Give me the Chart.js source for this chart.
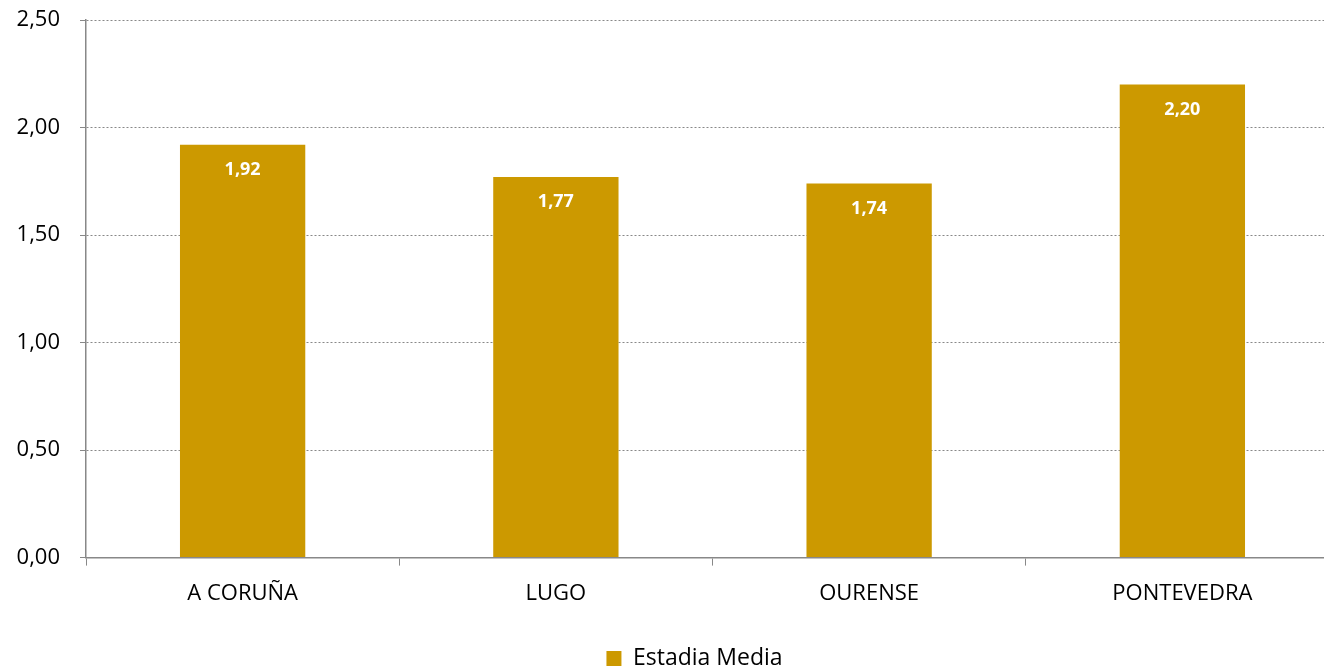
<!DOCTYPE html>
<html>
<head>
<meta charset="utf-8">
<script src="https://cdn.jsdelivr.net/npm/chart.js@4/dist/chart.umd.min.js"></script>
<style>
  html, body { margin: 0; padding: 0; background: #fff; overflow: hidden; }
  #wrap { position: relative; width: 1386px; height: 669px; }
</style>
</head>
<body>
<div id="wrap"><canvas id="chart"></canvas></div>
<script>
// data
const provinces = ["A CORUÑA", "LUGO", "OURENSE", "PONTEVEDRA"];
const estadiaMedia = [1.92, 1.77, 1.74, 2.20];
const seriesName = "Estadia Media";
const yTicks = [0, 0.5, 1, 1.5, 2, 2.5];

const gold = "#CC9900";
const fontFamily = "'Open Sans', 'Noto Sans', sans-serif";

// comma decimals, like the original
function fmt(v) {
    return v.toFixed(2).replace(".", ",");
}

// white value labels just under the top of each bar
const barLabels = {
    id: "barLabels",
    afterDatasetsDraw(chart) {
        const ctx = chart.ctx;
        const meta = chart.getDatasetMeta(0);
        ctx.save();
        ctx.fillStyle = "#fff";
        ctx.font = "bold 18px " + fontFamily;
        ctx.textAlign = "center";
        ctx.textBaseline = "middle";
        meta.data.forEach(function (bar, i) {
            ctx.fillText(fmt(estadiaMedia[i]), bar.x, bar.y + 25);
        });
        ctx.restore();
    }
};

// the legend sits a bit right and lower than Chart.js would put it
const legendNudge = {
    id: "legendNudge",
    afterLayout(chart) {
        const lg = chart.legend;
        lg.left += 25; lg.right += 25;
        lg.top += 11; lg.bottom += 11;
    }
};

const ctx = document.getElementById("chart").getContext("2d");
const chart = new Chart(ctx, {
    type: "bar",
    data: {
        labels: provinces,
        datasets: [{
            label: seriesName,
            data: estadiaMedia,
            backgroundColor: gold,
            borderWidth: 0,
            categoryPercentage: 1.0,
            barPercentage: 0.4
        }]
    },
    options: {
        responsive: true,
        maintainAspectRatio: false,
        animation: false,
        layout: { padding: { top: 20, right: 47, bottom: 0, left: 0 } },
        scales: {
            x: {
                offset: true,
                grid: {
                    offset: true,
                    drawOnChartArea: false,
                    drawTicks: true,
                    tickLength: 8,
                    color: "#888"
                },
                border: { display: true, color: "#888", width: 1.5 },
                ticks: {
                    color: "#000",
                    padding: 15,
                    font: { family: fontFamily, size: 22 }
                },
                afterFit(scale) {
                    scale.height += 8;
                }
            },
            y: {
                min: 0,
                max: 2.5,
                afterBuildTicks(scale) {
                    scale.ticks = yTicks.map(function (v) { return { value: v }; });
                },
                afterFit(scale) {
                    scale.width = 86;
                    scale.paddingTop = 0;
                },
                grid: {
                    color: "#888",
                    lineWidth: 1,
                    tickBorderDash: [],
                    drawTicks: true,
                    tickLength: 6
                },
                border: { display: true, color: "#888", width: 1.5, dash: [2, 2] },
                ticks: {
                    color: "#000",
                    padding: 20,
                    font: { family: fontFamily, size: 22 },
                    callback: function (v) { return fmt(v); }
                }
            }
        },
        plugins: {
            legend: {
                position: "bottom",
                labels: {
                    color: "#000",
                    boxWidth: 15,
                    boxHeight: 15,
                    padding: 6,
                    font: { family: fontFamily, size: 23 }
                }
            },
            tooltip: { enabled: false }
        }
    },
    plugins: [barLabels, legendNudge]
});
</script>
</body>
</html>
